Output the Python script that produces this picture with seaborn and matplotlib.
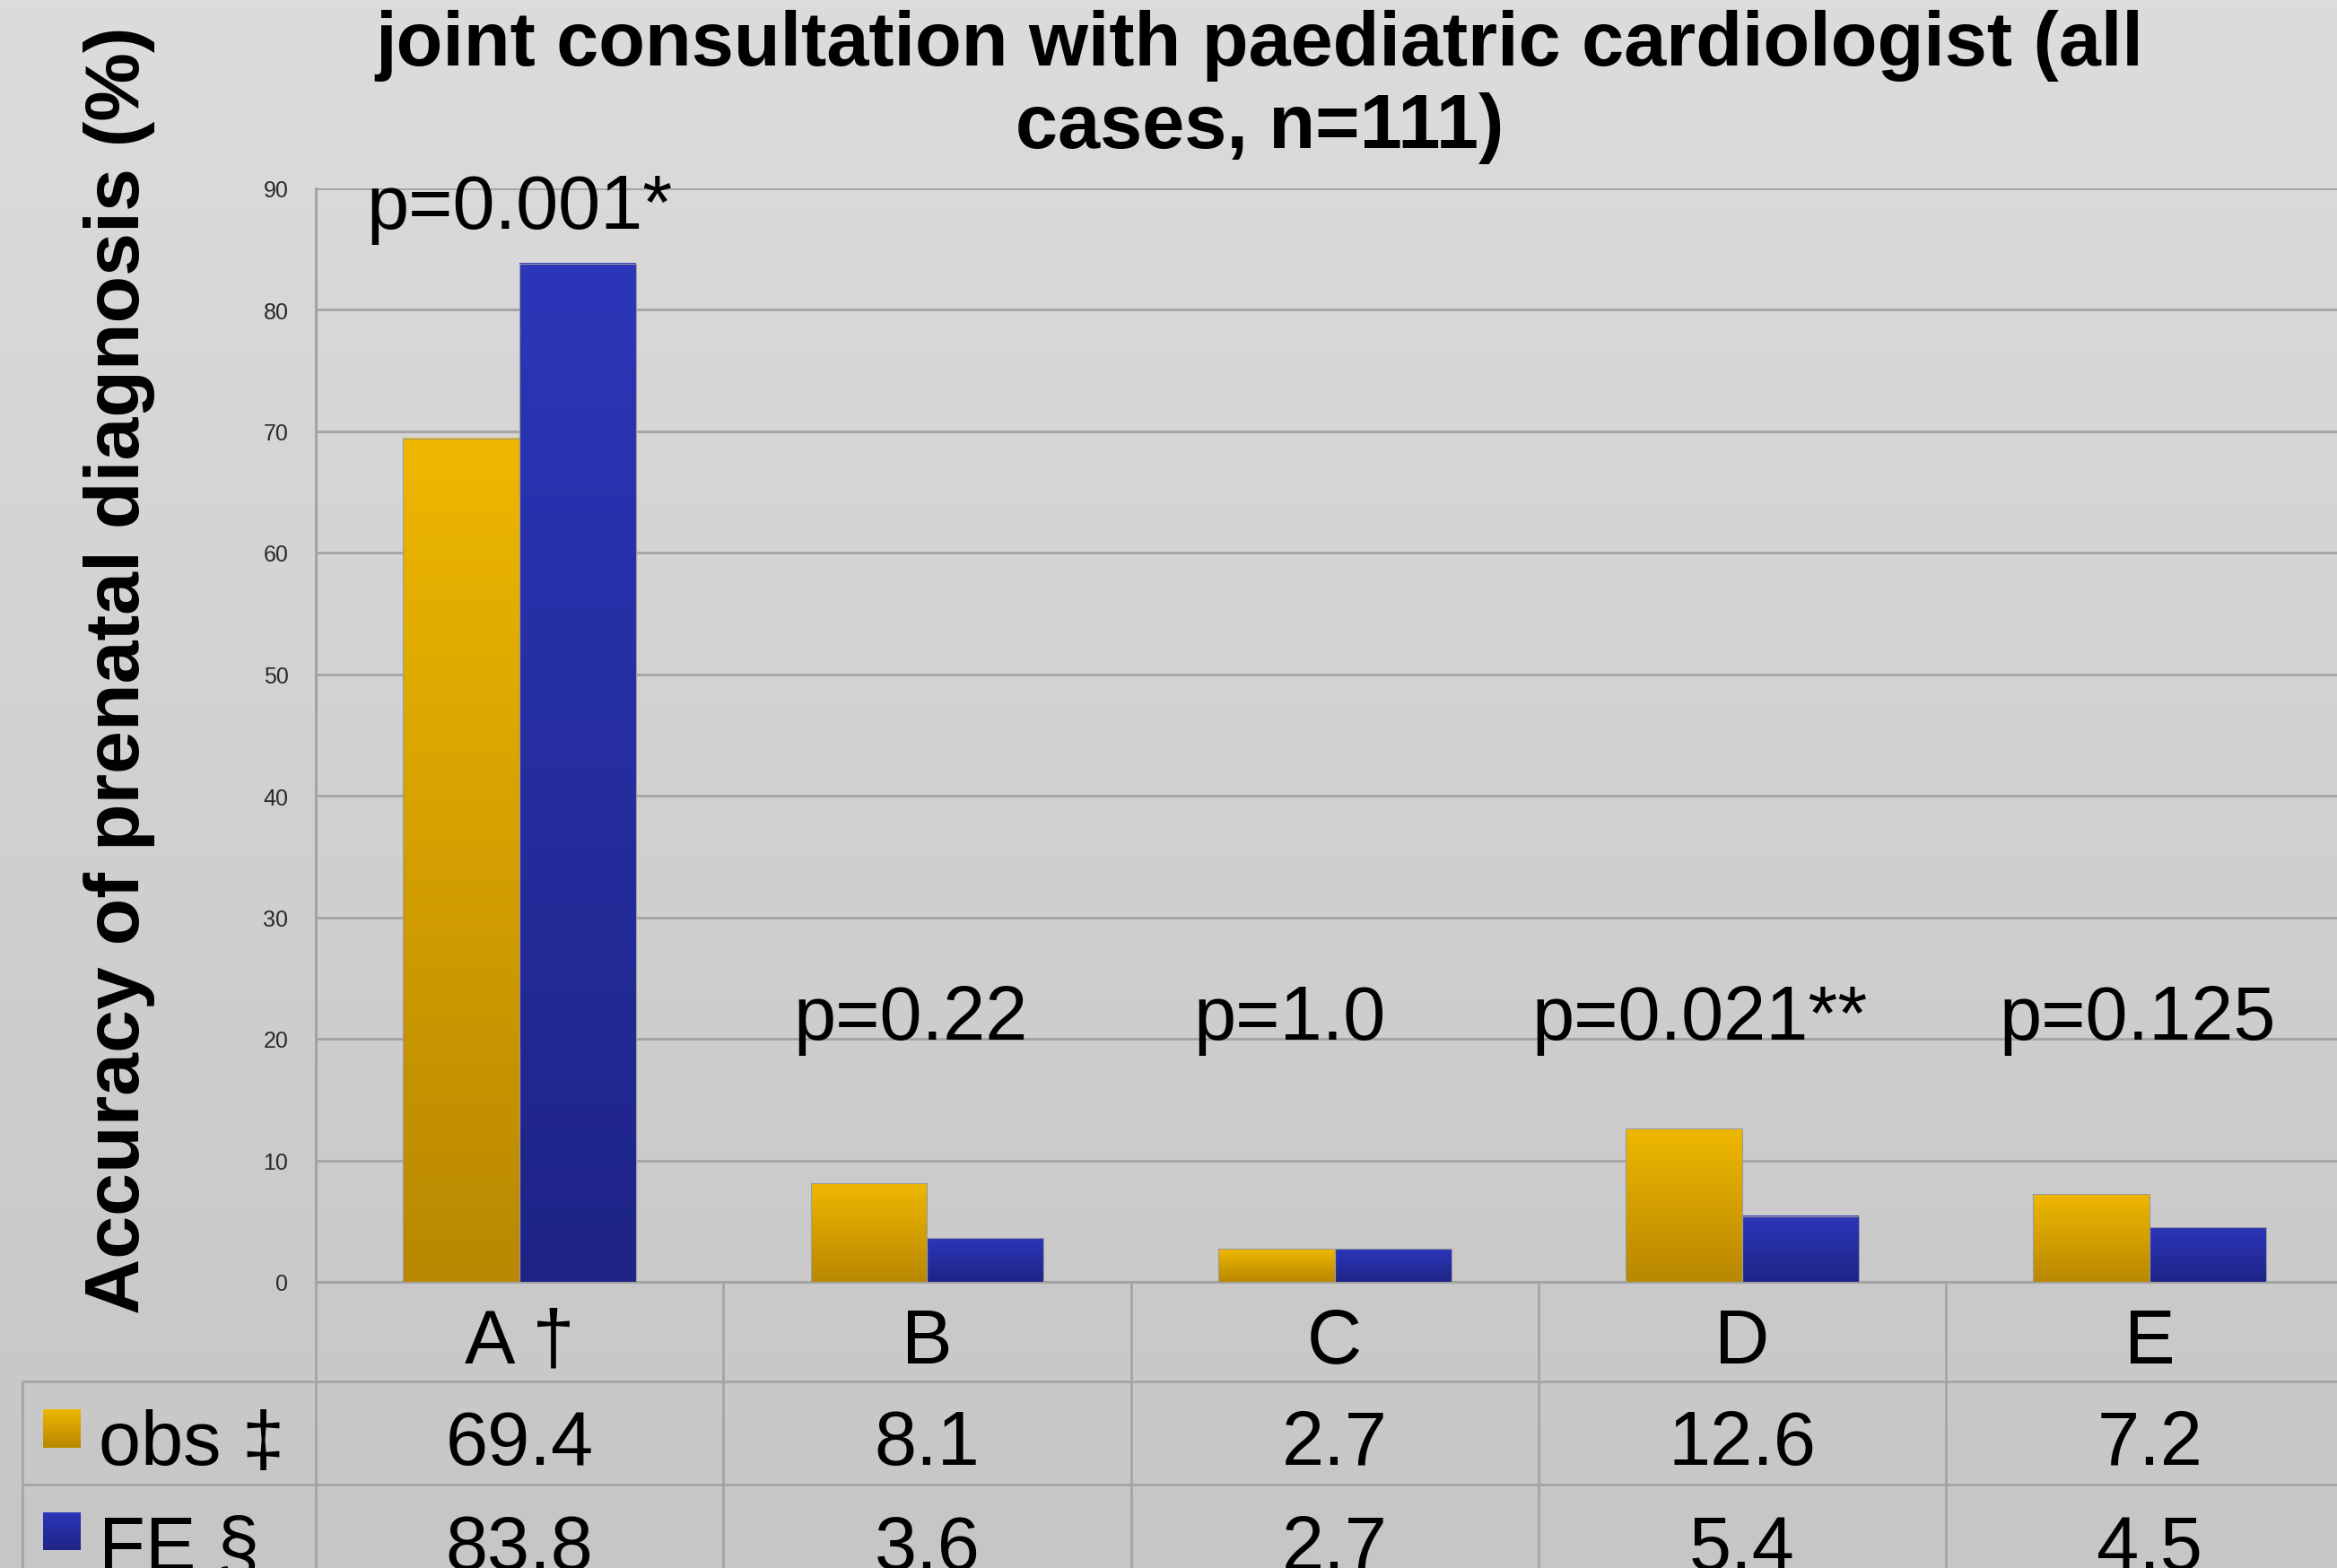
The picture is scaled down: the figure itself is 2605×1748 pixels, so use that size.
import numpy as np
import pandas as pd
import seaborn as sns
import matplotlib.pyplot as plt
from matplotlib.colors import LinearSegmentedColormap

# chart data
categories = ["A", "B", "C", "D", "E"]
cat_labels = ["A \u2020", "B", "C", "D", "E"]
series = ["obs \u2021", "FE \u00a7"]
obs = [69.4, 8.1, 2.7, 12.6, 7.2]
fe = [83.8, 3.6, 2.7, 5.4, 4.5]
p_labels = ["p=0.001*", "p=0.22", "p=1.0", "p=0.021**", "p=0.125"]
p_x = [0.0, 0.96, 1.89, 2.895, 3.97]
p_y = [86.7, 20, 20, 20, 20]
yticks = list(range(0, 91, 10))

df = pd.DataFrame({
    "group": categories * 2,
    "series": [series[0]] * len(categories) + [series[1]] * len(categories),
    "value": obs + fe,
})

sns.set_theme(style="white")
plt.rcParams['font.family'] = ['Liberation Sans', 'DejaVu Sans']
plt.rcParams['text.color'] = 'black'

W_PX, H_PX = 2605, 1749
fig = plt.figure(figsize=(W_PX / 100, H_PX / 100), dpi=100)

# background gradient
bg = fig.add_axes([0, 0, 1, 1], zorder=-10)
bg_cmap = LinearSegmentedColormap.from_list("bg", ["#c6c6c6", "#dcdcdc"])
bg.imshow(np.linspace(0, 1, 256).reshape(-1, 1), cmap=bg_cmap, aspect="auto",
          extent=[0, 1, 0, 1], origin="lower")
bg.axis("off")

# main axes, in pixel layout (right edge runs past the figure)
ax_left, ax_bottom_px, col_w, ax_h = 352, 1430, 454.3, 1219.5
ax = fig.add_axes([ax_left / W_PX, (H_PX - ax_bottom_px) / H_PX,
                   5 * col_w / W_PX, ax_h / H_PX])
ax.set_facecolor("none")

yellow = LinearSegmentedColormap.from_list("y", ["#b98800", "#eeb700"])
blue = LinearSegmentedColormap.from_list("b", ["#1e2486", "#2c36b9"])
grad = np.linspace(0, 1, 128).reshape(-1, 1)

sns.barplot(data=df, x="group", y="value", hue="series",
            palette=["#d9a300", "#2730a8"], width=0.572, errorbar=None,
            saturation=1, legend=False, edgecolor="#9c9c9c", linewidth=0.8,
            ax=ax)

# vertical gradient fill per bar
for cont, cm in zip(ax.containers, [yellow, blue]):
    for bar in cont:
        x0, y0 = bar.get_x(), bar.get_y()
        w, h = bar.get_width(), bar.get_height()
        ax.imshow(grad, cmap=cm, aspect="auto", origin="lower",
                  extent=[x0, x0 + w, y0, y0 + h], zorder=3)
        bar.set_facecolor("none")
        bar.set_zorder(4)

ax.set_xlim(-0.5, 4.5)
ax.set_ylim(0, 90)
ax.set_yticks(yticks)
ax.set_xticks([])
ax.set_xlabel("")
ax.set_ylabel("")
ax.yaxis.grid(True, color="#a3a3a3", lw=2)
ax.set_axisbelow(True)
for s in ["top", "right"]:
    ax.spines[s].set_visible(False)
for s in ["left", "bottom"]:
    ax.spines[s].set_color("#a3a3a3")
    ax.spines[s].set_linewidth(2.2)
ax.tick_params(axis="y", length=0, labelsize=18, labelcolor="#2a2a2a", pad=22)

# p-values
for lab, x, y in zip(p_labels, p_x, p_y):
    ax.text(x, y, lab, ha="center", va="baseline", fontsize=61, color="black")

# pixel -> data helpers for the table below the axes
def px2y(py):
    return (ax_bottom_px - py) * 90 / ax_h

def px2x(px):
    return -0.5 + (px - ax_left) / col_w

line_kw = dict(color="#a5a5a5", lw=2, clip_on=False, zorder=2)
y_r1, y_r2, y_end = px2y(1541), px2y(1656), px2y(1800)
x_tab = px2x(25)
ax.plot([x_tab, 4.5], [y_r1, y_r1], **line_kw)
ax.plot([x_tab, 4.5], [y_r2, y_r2], **line_kw)
ax.plot([x_tab, x_tab], [y_r1, y_end], **line_kw)
for k in range(6):
    ax.plot([k - 0.5, k - 0.5], [0, y_end], **line_kw)

txt_kw = dict(fontsize=61, color="black", va="baseline", clip_on=False)
for i, lab in enumerate(cat_labels):
    ax.text(i, px2y(1520), lab, ha="center", **txt_kw)
for i in range(len(categories)):
    ax.text(i, px2y(1633), f"{obs[i]:.1f}", ha="center", **txt_kw)
    ax.text(i, px2y(1750), f"{fe[i]:.1f}", ha="center", **txt_kw)

ax.text(px2x(110), px2y(1633), series[0], ha="left", **txt_kw)
ax.text(px2x(110), px2y(1750), series[1], ha="left", **txt_kw)
for top, bot, cm in [(1572, 1615, yellow), (1687, 1729, blue)]:
    im = ax.imshow(grad, cmap=cm, aspect="auto", origin="lower",
                   extent=[px2x(48), px2x(90), px2y(bot), px2y(top)], zorder=3)
    im.set_clip_on(False)

ax.set_xlim(-0.5, 4.5)
ax.set_ylim(0, 90)

# y label and title
fig.text(133 / W_PX, 1 - 747 / H_PX, "Accuracy of prenatal diagnosis (%)",
         rotation=90, ha="center", va="center", fontsize=62, fontweight="bold",
         color="black")
fig.text(0.539, 1 - 165 / H_PX,
         "joint consultation with paediatric cardiologist (all\ncases, n=111)",
         ha="center", va="baseline", fontsize=61, fontweight="bold",
         linespacing=1.2, color="black")

fig.savefig("out.png", dpi=100)
